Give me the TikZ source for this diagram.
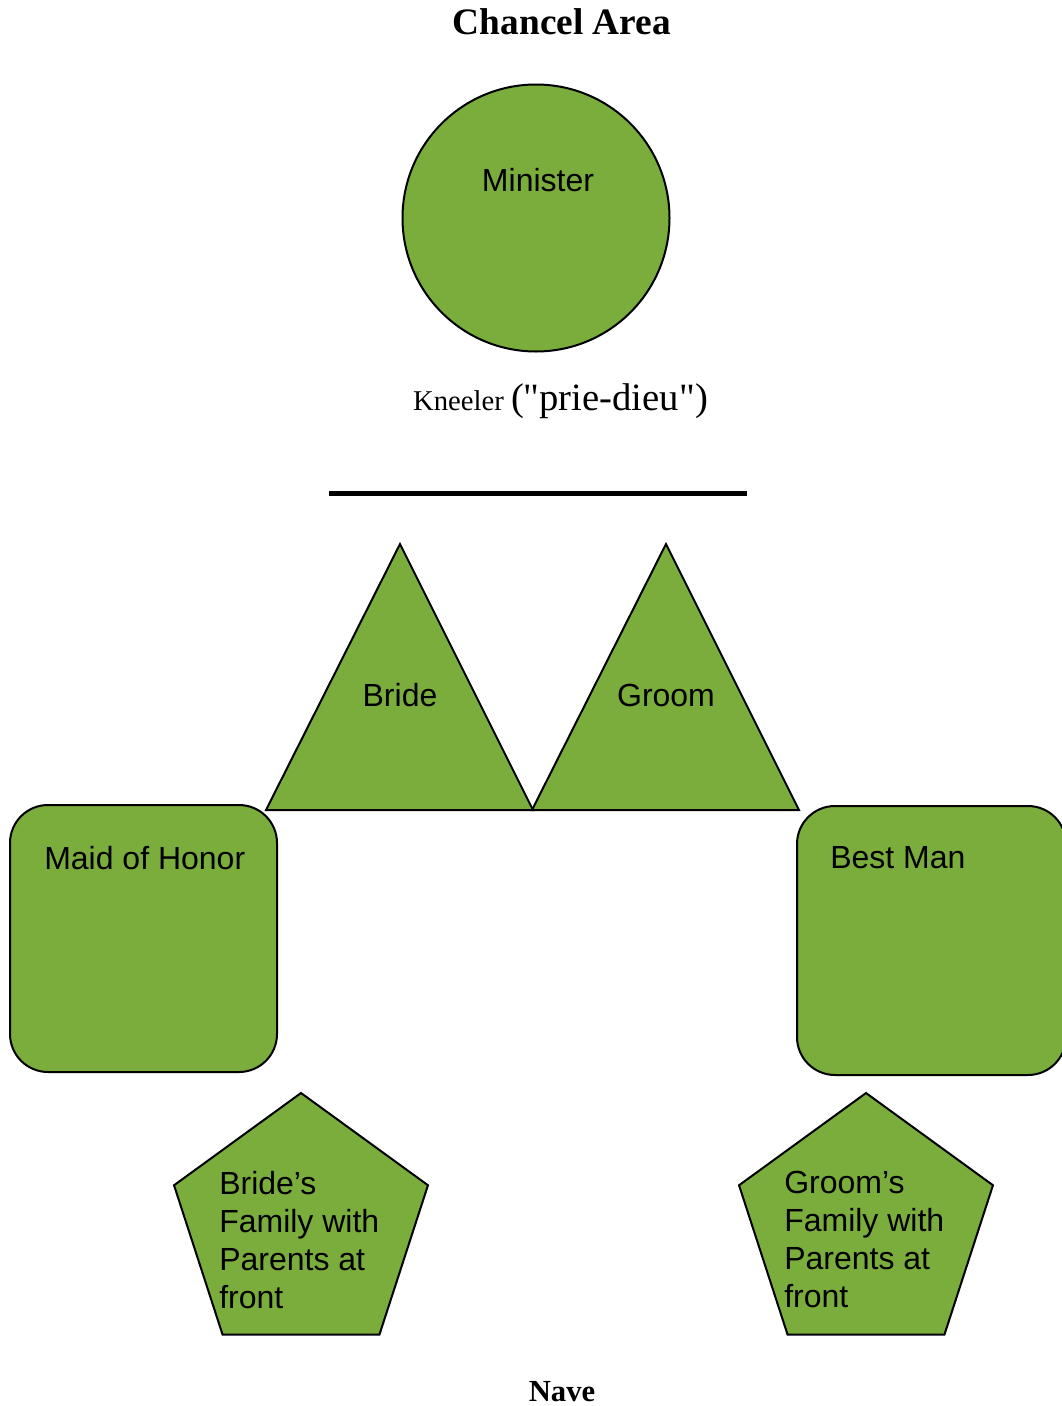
\documentclass[tikz,border=0pt]{standalone}
\usepackage{fontspec}
\setmainfont{Liberation Serif}
\setsansfont{Liberation Sans}
\usetikzlibrary{shapes.geometric}
\definecolor{seatgreen}{RGB}{122,173,60}

\begin{document}
\begin{tikzpicture}[x=0.75pt,y=-0.75pt,
  seat/.style={draw, fill=seatgreen, line width=1.5pt},
  who/.style={font=\sffamily\fontsize{24}{28.5}\selectfont, inner sep=0pt},
  heading/.style={font=\bfseries\fontsize{28}{32}\selectfont, inner sep=0pt},
  family/.style={seat, regular polygon, regular polygon sides=5, minimum size=200.25pt, inner sep=0pt}]
  \useasboundingbox (0,0) rectangle (1061,1406);

  \node[heading] (chancel) at (562,22) {Chancel Area};
  \node[heading,font=\bfseries\fontsize{23}{26}\selectfont] (nave) at (562,1392) {Nave};

  \node[seat,circle,minimum size=200.25pt,inner sep=0pt] (minister) at (536,218) {};
  \node[who] (ministertext) at (538,180) {Minister};

  \node[inner sep=0pt,anchor=base] (kneeler) at (560.5,410)
    {{\fontsize{21.5}{26}\selectfont Kneeler }{\fontsize{29}{34}\selectfont (\textquotedbl prie-dieu\textquotedbl)}};
  \draw[line width=3.75pt] (329,493) -- (747,493);

  \foreach \x/\name/\txt in {400/bride/Bride,666/groom/Groom} {
    \draw[seat] (\x,544) -- (\x-134,810) -- (\x+133,810) -- cycle;
    \node[who] (\name) at (\x,695) {\txt};
  }

  \draw[seat,rounded corners=28.5pt] (10,805) rectangle (277,1072);
  \node[who,anchor=west] (maid) at (44,858) {Maid of Honor};
  \draw[seat,rounded corners=28.5pt] (797,806) rectangle (1066,1075);
  \node[who,anchor=west] (bestman) at (830,858) {Best Man};

  \node[family] (bridefam) at (301,1226.5) {};
  \node[who,align=left,anchor=north west] (bridefamtext) at (219,1171) {Bride’s\\Family with\\Parents at\\front};
  \node[family] (groomfam) at (866,1226.5) {};
  \node[who,align=left,anchor=north west] (groomfamtext) at (784,1171) {Groom’s\\Family with\\Parents at\\front};
\end{tikzpicture}
\end{document}
